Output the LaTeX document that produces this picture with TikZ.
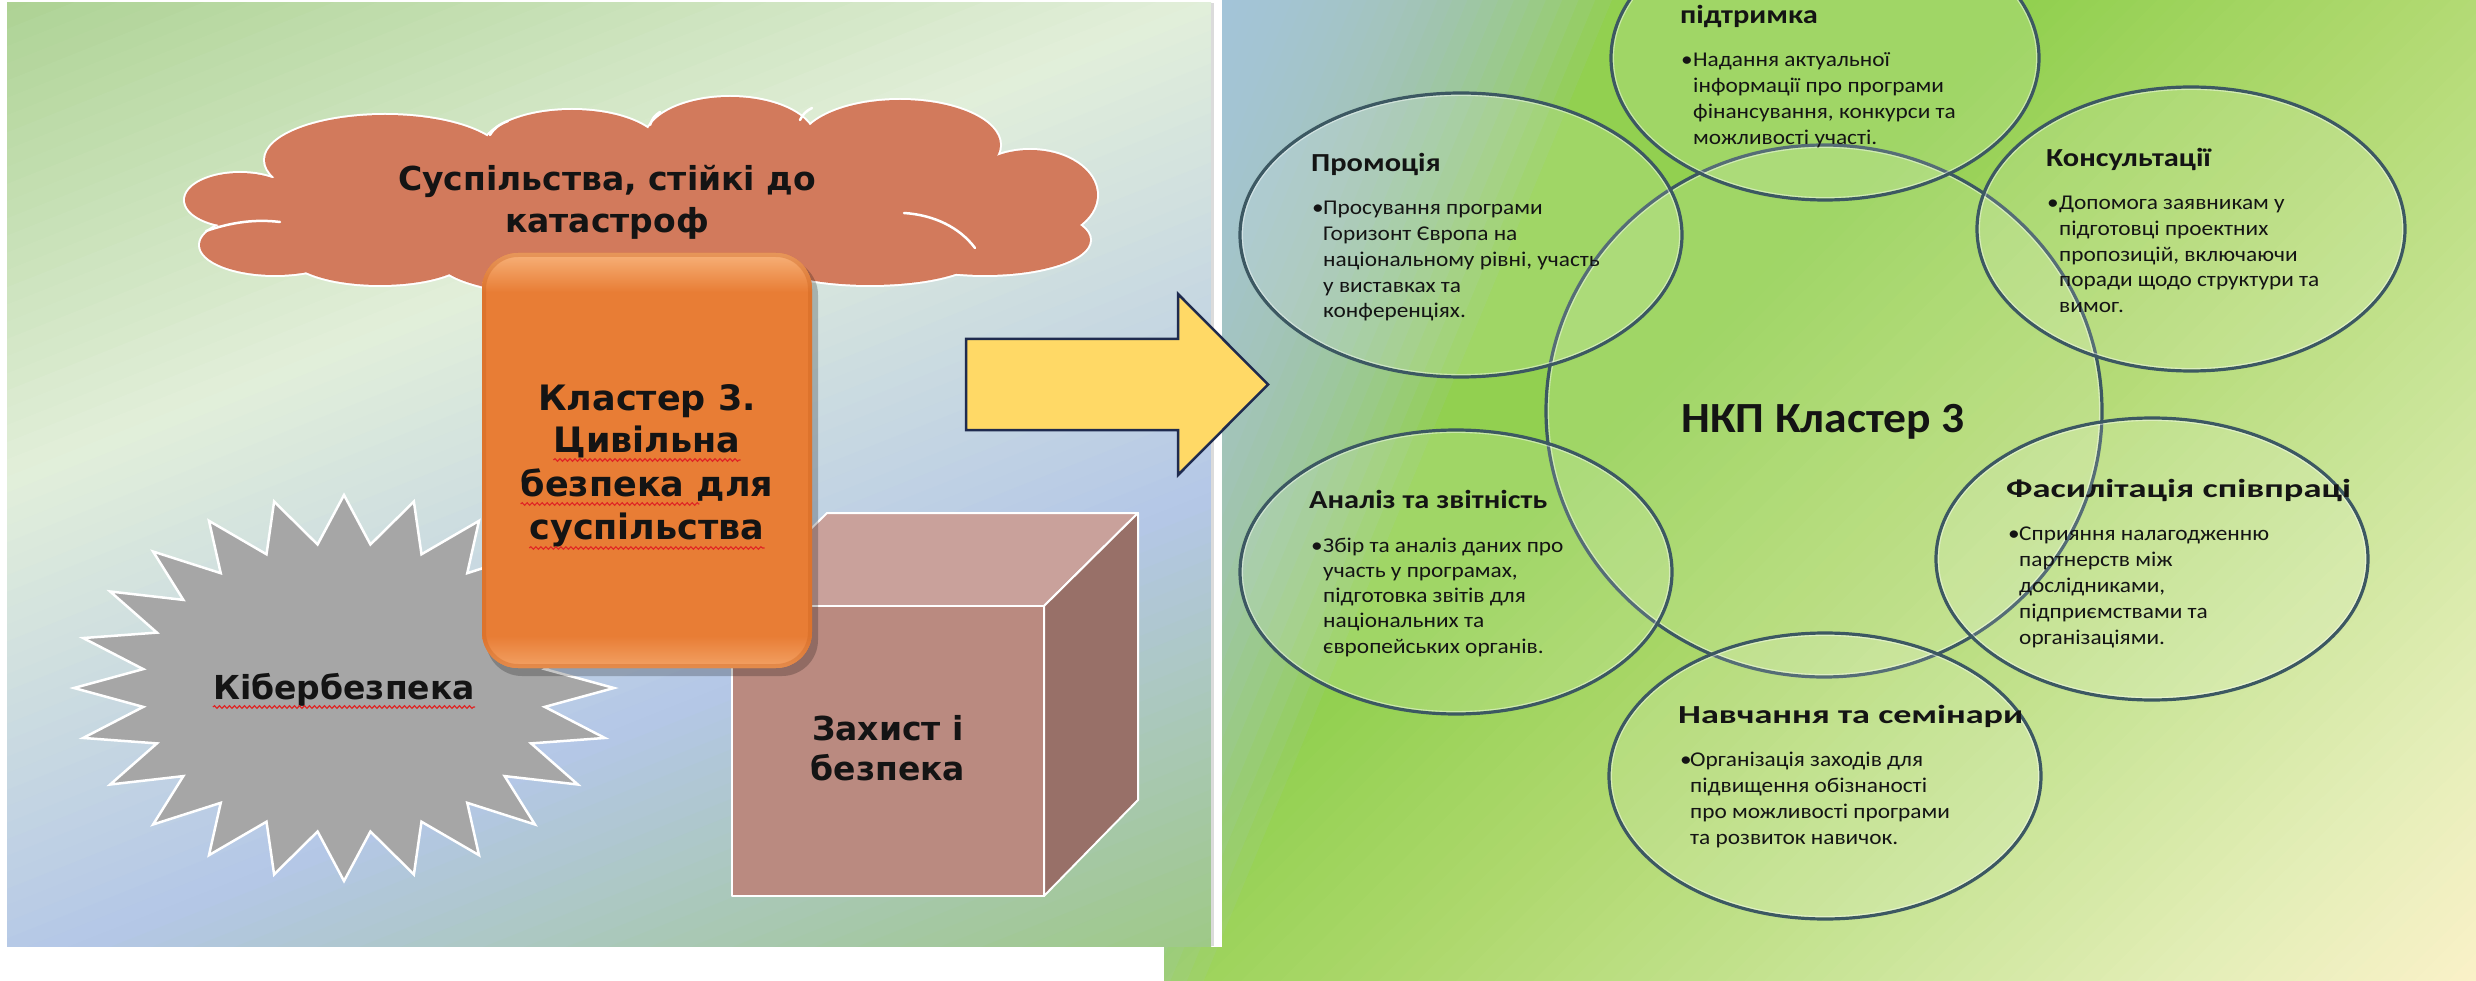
\documentclass[tikz,border=0pt]{standalone}
\usepackage{graphicx}
\usepackage{fontspec}
\setmainfont{Carlito}
\newfontfamily\lf{DejaVu Sans}
\newfontfamily\headf{Carlito}[FakeStretch=1.17]
\newfontfamily\bodyf{Carlito}[FakeStretch=1.11]
\newfontfamily\nkpf{Carlito}[FakeStretch=1.06]
\usetikzlibrary{calc,decorations.pathmorphing}

\definecolor{lpG1}{HTML}{A9D08E}
\definecolor{lpP}{HTML}{E2EFDA}
\definecolor{lpB}{HTML}{B4C7E7}
\definecolor{lpG2}{HTML}{9CC97D}
\definecolor{rpB}{HTML}{AEC4E8}
\definecolor{rpG}{HTML}{92D050}
\definecolor{rpM}{HTML}{B0D970}
\definecolor{rpL}{HTML}{C8E496}
\definecolor{rpL2}{HTML}{E4EEB8}
\definecolor{rpC}{HTML}{FFF2CC}
\definecolor{cloudC}{HTML}{D27A5C}
\definecolor{orgC}{HTML}{E87D35}
\definecolor{orgHi}{HTML}{F7B27A}
\definecolor{orgD}{HTML}{C9621E}
\definecolor{starC}{HTML}{A6A6A6}
\definecolor{cubeTop}{HTML}{C9A19B}
\definecolor{cubeFront}{HTML}{BA8A80}
\definecolor{cubeSide}{HTML}{987068}
\definecolor{arrowC}{HTML}{FFD966}
\definecolor{arrowL}{HTML}{1F2B4F}
\definecolor{ellL}{HTML}{3C5862}
\definecolor{txt}{HTML}{141414}
\definecolor{squigC}{HTML}{E02424}

\newcommand\gradseg[5]{%
  \foreach \gi in {1,...,#5}{%
    \pgfmathsetmacro\gua{#1+(#2-#1)*(\gi-1)/#5}%
    \pgfmathsetmacro\gub{#1+(#2-#1)*\gi/#5+1.5}%
    \pgfmathtruncatemacro\gpc{100*(\gi-0.5)/#5}%
    \fill[#4!\gpc!#3] (\gua,-3000) rectangle (\gub,3000);%
  }%
}
% cumulative translucent layers: nearly opaque at u=0, fading out at u=#2
\newcommand\fadelayer[4]{%
  \foreach \gi in {1,...,#3}{%
    \pgfmathsetmacro\gub{#2*(\gi/#3)^1.3}%
    \fill[#1, opacity=#4] (-200,-3000) rectangle (\gub,3000);%
  }%
}

\tikzset{
  ell/.style={draw=ellL, line width=3.2pt, fill=white, fill opacity=0.13},
  ellhi/.style={draw=white, line width=1.1pt, opacity=0.45},
  head/.style={anchor=base west, inner sep=0pt, text=txt, font=\headf\fontsize{26}{31}\selectfont\bfseries},
  body/.style={anchor=base west, inner sep=0pt, text=txt, font=\bodyf\fontsize{21}{25}\selectfont},
  lcloud/.style={anchor=base, inner sep=0pt, text=txt, font=\lf\fontsize{33}{38}\selectfont\bfseries},
  lorg/.style={anchor=base, inner sep=0pt, text=txt, font=\lf\fontsize{35}{40}\selectfont\bfseries},
  lstar/.style={anchor=base, inner sep=0pt, text=txt, font=\lf\fontsize{33}{38}\selectfont\bfseries},
  lcube/.style={anchor=base, inner sep=0pt, text=txt, font=\lf\fontsize{33}{38}\selectfont\bfseries},
  squig/.style={draw=squigC, line width=1.1pt, decorate, decoration={snake, amplitude=1.3pt, segment length=5pt}},
  lobe/.style={fill=cloudC},
  lobeline/.style={draw=white, line width=4pt},
  innerarc/.style={draw=white, line width=2.5pt, line cap=round}
}

\begin{document}
\begin{tikzpicture}[x=1pt,y=-1pt]
\useasboundingbox (0,0) rectangle (2476,981);
\fill[white] (0,0) rectangle (2476,981);

% ---------- right panel background ----------
\begin{scope}
  \clip (1164,0) rectangle (2476,981);
  \begin{scope}[shift={(1164,0)},rotate=-45.4]
    \gradseg{-40}{615}{rpG}{rpG}{2}
    \gradseg{615}{890}{rpG}{rpM}{20}
    \gradseg{890}{1160}{rpM}{rpL}{20}
    \gradseg{1160}{1420}{rpL}{rpL2}{20}
    \gradseg{1420}{1660}{rpL2}{rpC}{20}
  \end{scope}
  \begin{scope}[shift={(1222,0)},rotate=-22.6]
    \fadelayer{rpB}{360}{30}{0.09}
  \end{scope}
\end{scope}

% ---------- left panel background ----------
\fill[white] (0,0) rectangle (1222,947);
\begin{scope}
  \clip (7,3) rectangle (1211,946);
  \begin{scope}[shift={(7,3)},rotate=-68.3]
    \gradseg{-40}{440}{lpG1}{lpP}{30}
    \gradseg{440}{900}{lpP}{lpB}{30}
    \gradseg{900}{1360}{lpB}{lpG2}{30}
  \end{scope}
\end{scope}
\fill[black!14] (1211,3) rectangle (1214,946);

% ---------- cloud ----------
\foreach \cx/\cy/\rx/\ry in {240/200/55/27, 385/160/120/45, 572/150/90/40, 730/140/85/43,
  900/145/100/45, 1030/195/67/45, 985/240/105/35, 870/255/110/30, 620/262/180/38,
  275/245/75/30, 380/255/90/30}
  \path[lobeline] (\cx,\cy) ellipse [x radius=\rx, y radius=\ry];
\foreach \cx/\cy/\rx/\ry in {240/200/55/27, 385/160/120/45, 572/150/90/40, 730/140/85/43,
  900/145/100/45, 1030/195/67/45, 985/240/105/35, 870/255/110/30, 620/262/180/38,
  275/245/75/30, 380/255/90/30, 640/200/390/65}
  \path[lobe] (\cx,\cy) ellipse [x radius=\rx, y radius=\ry];
\draw[innerarc] (206,231) .. controls (232,222) and (256,219) .. (280,222);
\draw[innerarc] (490,135) .. controls (494,128) and (500,124) .. (508,121);
\draw[innerarc] (650,125) .. controls (652,119) and (655,115) .. (660,112);
\draw[innerarc] (800,120) .. controls (803,114) and (806,111) .. (812,108);
\draw[innerarc] (904,213) .. controls (935,215) and (960,228) .. (975,248);
\node[lcloud] (cl-t1) at (607,191) {Суспільства, стійкі до};
\node[lcloud] (cl-t2) at (607,233) {катастроф};

% ---------- star ----------
\begin{scope}[shift={(344,688)}]
  \path[fill=starC, draw=white, line width=2.5pt, line join=miter]
    (0:270 and 193)
    \foreach \k in {0,...,23} { -- ({\k*15+7.5}:202.5 and 144.75) -- ({\k*15+15}:270 and 193) } -- cycle;
\end{scope}
\node[lstar] (st-t) at (344,699) {Кібербезпека};
\draw[squig] ($(st-t.base west)+(0,8)$) -- ($(st-t.base east)+(0,8)$);

% ---------- cube ----------
\filldraw[fill=cubeTop, draw=white, line width=2pt, line join=round]
  (732,606) -- (827,513) -- (1138,513) -- (1044,606) -- cycle;
\filldraw[fill=cubeSide, draw=white, line width=2pt, line join=round]
  (1044,606) -- (1138,513) -- (1138,800) -- (1044,896) -- cycle;
\filldraw[fill=cubeFront, draw=white, line width=2pt, line join=round]
  (732,606) rectangle (1044,896);
\node[lcube] (cb-t1) at (888,740) {Захист і};
\node[lcube] (cb-t2) at (888,780) {безпека};

% ---------- orange rounded box ----------
\fill[black, opacity=0.22, rounded corners=36pt] (486,259) rectangle (818,676);
\fill[orgC, rounded corners=36pt] (482,253) rectangle (812,668);
\begin{scope}
  \clip[rounded corners=36pt] (482,253) rectangle (812,668);
  \shade[top color=orgHi, bottom color=orgC] (482,253) rectangle (812,292);
  \shade[top color=orgC, bottom color=orgHi!70!orgC] (482,636) rectangle (812,668);
  \draw[orgD, line width=8pt, opacity=0.35, rounded corners=36pt] (482,253) rectangle (812,668);
\end{scope}
\node[lorg] (or-t1) at (647,410) {Кластер 3.};
\node[lorg] (or-t2) at (647,452) {Цивільна};
\node[lorg] (or-t3) at (647,496) {безпека для};
\node[lorg] (or-t4) at (647,539) {суспільства};
\draw[squig] ($(or-t2.base west)+(0,8)$) -- ($(or-t2.base east)+(0,8)$);
\draw[squig] ($(or-t3.base west)+(0,8)$) -- ($(or-t3.base west)!0.707!(or-t3.base east)+(0,8)$);
\draw[squig] ($(or-t4.base west)+(0,9)$) -- ($(or-t4.base east)+(0,9)$);

% ---------- yellow arrow ----------
\filldraw[fill=arrowC, draw=arrowL, line width=2.5pt, line join=miter]
  (966,339) -- (1178,339) -- (1178,294) -- (1268,384.5) -- (1178,475) -- (1178,430) -- (966,430) -- cycle;

% ---------- right panel ellipses ----------
\begin{scope}
  \clip (1222,0) rectangle (2476,981);
  \foreach \cx/\cy/\rx/\ry in {1824/411/278/266, 1825/58/214/142, 1461/235/221/142,
    2191/229/214/142, 1456/572/216/142, 2152/559/216/141, 1825/776/216/143}
  {
    \path[ell] (\cx,\cy) ellipse [x radius=\rx, y radius=\ry];
    \path[ellhi] (\cx,\cy) ellipse [x radius=\rx-2.4, y radius=\ry-2.4];
  }
\end{scope}

\node[anchor=base, inner sep=0pt, text=txt, font=\nkpf\fontsize{43}{50}\selectfont\bfseries] (nkp) at (1823,432) {НКП Кластер 3};

% top
\node[head] (sup-h) at (1680,24) {підтримка};
\node[body] (sup-b) at (1681,67) {•};
\foreach [count=\i] \t in {Надання актуальної, інформації про програми, {фінансування, конкурси та}, можливості участі.}
  \node[body] (sup-l\i) at (1693,{67+(\i-1)*26}) {\t};

% promo
\node[head] (pro-h) at (1311,172) {Промоція};
\node[body] (pro-b) at (1312,215) {•};
\foreach [count=\i] \t in {Просування програми, Горизонт Європа на, {національному рівні, участь}, у виставках та, конференціях.}
  \node[body] (pro-l\i) at (1323,{215+(\i-1)*25.7}) {\t};

% consult
\node[head] (con-h) at (2046,167) {Консультації};
\node[body] (con-b) at (2047,210) {•};
\foreach [count=\i] \t in {Допомога заявникам у, підготовці проектних, {пропозицій, включаючи}, поради щодо структури та, вимог.}
  \node[body] (con-l\i) at (2059,{210+(\i-1)*25.6}) {\t};

% analysis
\node[head] (ana-h) at (1309,508) {Аналіз та звітність};
\node[body] (ana-b) at (1311,552) {•};
\foreach [count=\i] \t in {Збір та аналіз даних про, {участь у програмах,}, підготовка звітів для, національних та, європейських органів.}
  \node[body] (ana-l\i) at (1323,{552+(\i-1)*25.3}) {\t};

% facilitation
\node[head] (fac-h) at (2006,497) {\scalebox{1.2}[1]{Фасилітація співпраці}};
\node[body] (fac-b) at (2008,540) {•};
\foreach [count=\i] \t in {Сприяння налагодженню, партнерств між, {дослідниками,}, підприємствами та, організаціями.}
  \node[body] (fac-l\i) at (2019,{540+(\i-1)*26}) {\t};

% training
\node[head] (trn-h) at (1678,723) {\scalebox{1.19}[1]{Навчання та семінари}};
\node[body] (trn-b) at (1680,766) {•};
\foreach [count=\i] \t in {Організація заходів для, підвищення обізнаності, про можливості програми, та розвиток навичок.}
  \node[body] (trn-l\i) at (1690,{766+(\i-1)*26}) {\t};

\end{tikzpicture}
\end{document}
